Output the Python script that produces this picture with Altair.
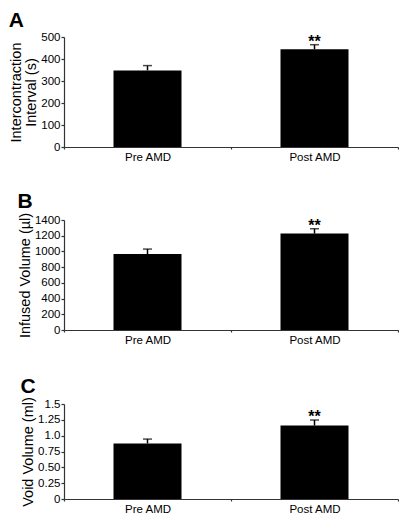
import altair as alt
import pandas as pd

categories = ["Pre AMD", "Post AMD"]
stars = ["", "**"]

a_means = [348, 444]
a_errors = [22, 21]
b_means = [967, 1227]
b_errors = [63, 62]
c_means = [0.876, 1.16]
c_errors = [0.07, 0.087]

a_ticks = [0, 100, 200, 300, 400, 500]
b_ticks = [0, 200, 400, 600, 800, 1000, 1200, 1400]
c_ticks = [0, 0.25, 0.5, 0.75, 1.0, 1.25, 1.5]
c_tick_labels = ["0", "0.25", "0.50", "0.75", "1.0", "1.25", "1.5"]

FONT = "Liberation Sans, Arial, sans-serif"
AXIS_COLOR = "#333333"
PLOT_W = 334


def label_expr(values, labels):
    expr = "datum.label"
    for v, l in zip(values, labels):
        expr = f"abs(datum.value - {v}) < 1e-9 ? '{l}' : ({expr})"
    return expr


def panel(letter, means, errors, ytitle, ticks, tick_labels, height):
    df = pd.DataFrame({
        "cat": categories,
        "mean": means,
        "upper": [m + e for m, e in zip(means, errors)],
        "star": stars,
    })
    x = alt.X(
        "cat:N",
        sort=categories,
        scale=alt.Scale(paddingInner=0, paddingOuter=0),
        axis=alt.Axis(title=None, labelAngle=0, tickBand="extent", tickSize=2,
                      labelPadding=2),
    )
    axis_kw = dict(values=ticks, title=ytitle, grid=False, tickSize=3,
                   labelPadding=1, titlePadding=2, labelOverlap=False)
    if tick_labels is None:
        axis_kw["format"] = "d"
    else:
        axis_kw["labelExpr"] = label_expr(ticks, tick_labels)
    y_scale = alt.Scale(domain=[ticks[0], ticks[-1]], nice=False, zero=True)

    def Y(field):
        return alt.Y(field, scale=y_scale, axis=alt.Axis(**axis_kw))

    base = alt.Chart(df).encode(x=x)
    bars = base.mark_bar(size=68, color="black").encode(y=Y("mean:Q"))
    rule = base.mark_rule(color="black", strokeWidth=1.5).encode(
        y=Y("mean:Q"), y2="upper:Q"
    )
    cap = base.mark_tick(color="black", size=9, thickness=1.5).encode(
        y=Y("upper:Q")
    )
    txt = base.mark_text(font=FONT, fontSize=16, fontWeight="bold",
                         baseline="alphabetic", dy=2, color="black").encode(
        y=Y("upper:Q"), text="star:N"
    )
    return alt.layer(bars, rule, cap, txt).properties(
        width=PLOT_W,
        height=height,
        title=alt.TitleParams(letter, anchor="start", frame="bounds",
                              font=FONT, fontSize=21, fontWeight="bold",
                              color="black", offset=0),
    )


pa = panel("A", a_means, a_errors, ["Intercontraction", "Interval (s)"],
           a_ticks, None, 110)
pb = panel("B", b_means, b_errors, "Infused Volume (µl)", b_ticks, None, 110)
pc = panel("C", c_means, c_errors, "Void Volume (ml)", c_ticks, c_tick_labels, 95)

chart = alt.vconcat(pa, alt.vconcat(pb, pc, spacing=29), spacing=28).properties(
    padding={"left": 0, "top": 2, "right": 0, "bottom": 0}
).configure_view(stroke=None).configure_axis(
    labelFont=FONT, labelFontSize=11.5, labelColor="black", labelOverlap=False,
    titleFont=FONT, titleFontSize=14.5, titleFontWeight="normal",
    titleColor="black", titleLineHeight=15,
    domainColor=AXIS_COLOR, tickColor=AXIS_COLOR, domainWidth=1.2, tickWidth=1.2,
)

chart.save("out.html", embed_options={"renderer": "svg", "actions": False})
